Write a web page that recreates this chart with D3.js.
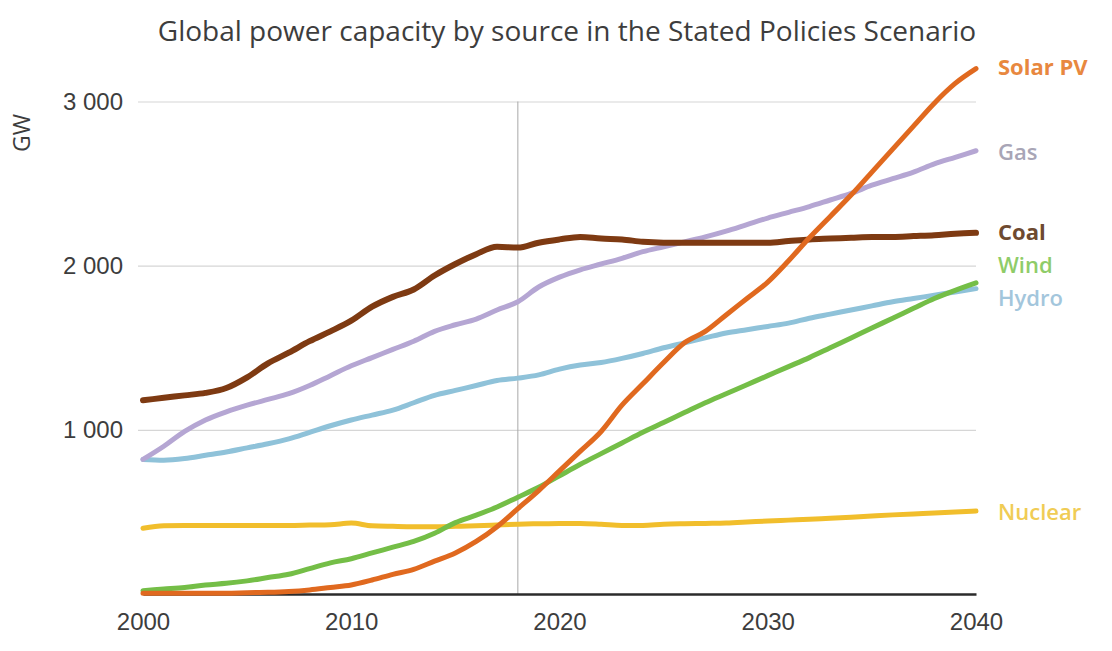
<!DOCTYPE html>
<html>
<head>
<meta charset="utf-8">
<script src="https://cdn.jsdelivr.net/npm/d3@7"></script>
<style>
  body { margin: 0; background: #fff; }
  svg { display: block; font-family: "Open Sans", "Noto Sans", sans-serif; }
</style>
</head>
<body>
<div id="chart"></div>
<script>
// Data (GW, one value per year 2000-2040)
const years = d3.range(2000, 2041);
const solarPV = [5, 5, 5, 5, 5, 8, 10, 15, 25, 40, 55, 85, 120, 150, 200, 250, 320, 410, 520, 630,
  750, 870, 990, 1150, 1280, 1410, 1530, 1600, 1700, 1800, 1900, 2030, 2170, 2300, 2430, 2570, 2710, 2850, 2990, 3110, 3200];
const gas = [820, 900, 990, 1060, 1110, 1150, 1185, 1220, 1270, 1330, 1390, 1440, 1490, 1540, 1600, 1640, 1675, 1730, 1780, 1870,
  1930, 1975, 2010, 2045, 2085, 2115, 2145, 2175, 2210, 2250, 2290, 2325, 2360, 2400, 2440, 2490, 2530, 2570, 2620, 2660, 2700];
const coal = [1180, 1195, 1210, 1225, 1255, 1320, 1405, 1470, 1540, 1600, 1665, 1750, 1810, 1855, 1940, 2010, 2070, 2115, 2110, 2140,
  2160, 2175, 2165, 2160, 2145, 2140, 2140, 2140, 2140, 2140, 2140, 2150, 2160, 2165, 2170, 2175, 2175, 2180, 2185, 2195, 2200];
const wind = [20, 30, 40, 55, 65, 80, 100, 120, 155, 190, 215, 250, 285, 320, 370, 435, 480, 530, 590, 650,
  720, 790, 855, 920, 985, 1045, 1105, 1165, 1220, 1275, 1330, 1385, 1440, 1500, 1560, 1620, 1680, 1740, 1800, 1850, 1895];
const hydro = [820, 815, 825, 845, 865, 890, 915, 945, 985, 1025, 1060, 1090, 1120, 1165, 1210, 1240, 1270, 1300, 1315, 1335,
  1370, 1395, 1410, 1435, 1465, 1500, 1530, 1560, 1590, 1610, 1630, 1650, 1680, 1705, 1730, 1755, 1780, 1800, 1820, 1840, 1860];
const nuclear = [400, 415, 418, 418, 418, 418, 418, 418, 420, 422, 432, 415, 412, 410, 410, 412, 415, 420, 425, 428,
  430, 430, 425, 418, 418, 425, 428, 430, 432, 438, 445, 450, 455, 462, 468, 475, 482, 488, 493, 500, 505];

const seriesNames = ["Nuclear", "Hydro", "Wind", "Gas", "Coal", "Solar PV"];
const seriesValues = [nuclear, hydro, wind, gas, coal, solarPV];
const lineColors = ["#f1be2c", "#8fc2d9", "#74be47", "#b5a6d3", "#7e3a12", "#e0691f"];
const labelColors = ["#f0cc55", "#a3c6dc", "#8fcc68", "#a8a5b6", "#6e4a30", "#e8883f"];
const labelY = [512, 298, 265, 152, 232, 67];
const lineWidths = [5, 5, 5, 5, 6, 5];

const yTicks = [1000, 2000, 3000];
const xTicks = [2000, 2010, 2020, 2030, 2040];
const historyEnd = 2018;

const width = 1112, height = 651;
const margin = { top: 101.5, right: 136, bottom: 57, left: 143 };

const svg = d3.select('#chart').append('svg')
  .attr('width', width)
  .attr('height', height);

const x = d3.scaleLinear()
  .domain([2000, 2040])
  .range([margin.left, width - margin.right]);

const y = d3.scaleLinear()
  .domain([0, 3000])
  .range([height - margin.bottom, margin.top]);

const fmt = d3.formatLocale({ decimal: ".", thousands: " ", grouping: [3], currency: ["", ""] }).format(",");

// Gridlines + y labels
const yAxis = svg.append('g')
  .attr('transform', `translate(${width - margin.right},0)`)
  .call(d3.axisLeft(y).tickValues(yTicks).tickFormat(fmt)
    .tickSize(width - margin.right - 138).tickPadding(15));
yAxis.select('.domain').remove();
yAxis.selectAll('.tick line').attr('stroke', '#d6d6d6').attr('stroke-width', 1.2);
yAxis.selectAll('.tick text')
  .attr('fill', '#3d3d3d')
  .style('font-size', '24px');

// Vertical line at the last historical year
svg.append('line')
  .attr('x1', x(historyEnd)).attr('x2', x(historyEnd))
  .attr('y1', y(3000)).attr('y2', y(0))
  .attr('stroke', '#a8a8a8')
  .attr('stroke-width', 1);

// x axis
const xAxis = svg.append('g')
  .attr('transform', `translate(0,${y(0)})`)
  .call(d3.axisBottom(x).tickValues(xTicks).tickFormat(d3.format('d')).tickSize(0).tickPadding(19));
xAxis.select('.domain').attr('stroke', '#2b2b2b').attr('stroke-width', 2.5);
xAxis.selectAll('.tick text')
  .attr('fill', '#3d3d3d')
  .style('font-size', '24px');

// Lines
const line = d3.line()
  .x((d, i) => x(years[i]))
  .y(d => y(d))
  .curve(d3.curveMonotoneX);

svg.append('g')
  .selectAll('path')
  .data(seriesValues)
  .join('path')
  .attr('d', line)
  .attr('fill', 'none')
  .attr('stroke', (d, i) => lineColors[i])
  .attr('stroke-width', (d, i) => lineWidths[i])
  .attr('stroke-linejoin', 'round')
  .attr('stroke-linecap', 'round');

// Series labels on the right
svg.append('g')
  .selectAll('text')
  .data(seriesNames)
  .join('text')
  .attr('x', 998)
  .attr('y', (d, i) => labelY[i])
  .attr('dy', '0.35em')
  .attr('fill', (d, i) => labelColors[i])
  .style('font-size', '22px')
  .style('font-weight', d => (d === 'Solar PV' || d === 'Coal') ? 700 : 600)
  .text(d => d);

// Title
svg.append('text')
  .attr('x', 567)
  .attr('y', 41)
  .attr('text-anchor', 'middle')
  .attr('fill', '#3d3d3d')
  .style('font-size', '28px')
  .text('Global power capacity by source in the Stated Policies Scenario');

// y axis unit
svg.append('text')
  .attr('transform', 'translate(22,133) rotate(-90)')
  .attr('dy', '0.35em')
  .attr('text-anchor', 'middle')
  .attr('fill', '#3d3d3d')
  .style('font-size', '23px')
  .text('GW');
</script>
</body>
</html>
